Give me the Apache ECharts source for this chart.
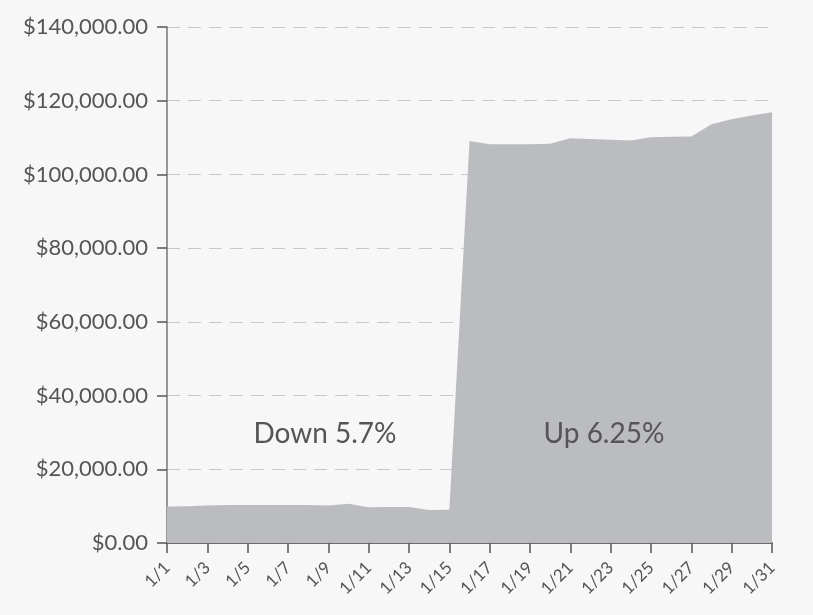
<!DOCTYPE html>
<html>
<head>
<meta charset="utf-8">
<script src="https://cdn.jsdelivr.net/npm/echarts@6/dist/echarts.min.js"></script>
<style>
html,body{margin:0;padding:0;background:#f7f7f7;}
#chart{width:813px;height:615px;}
</style>
</head>
<body>
<div id="chart"></div>
<script>
var categories = ['1/1','1/2','1/3','1/4','1/5','1/6','1/7','1/8','1/9','1/10','1/11','1/12','1/13','1/14','1/15','1/16','1/17','1/18','1/19','1/20','1/21','1/22','1/23','1/24','1/25','1/26','1/27','1/28','1/29','1/30','1/31'];
var values = [9900,10000,10150,10300,10300,10300,10300,10300,10200,10650,9700,9750,9750,8950,9050,109100,108200,108200,108200,108300,109800,109600,109400,109200,110100,110200,110300,113600,115000,116000,116900];
var yMin = 0, yMax = 140000, yStep = 20000;
var annotations = [
  {text: 'Down 5.7%', x: 325, y: 434},
  {text: 'Up 6.25%', x: 604, y: 434}
];

var chart = echarts.init(document.getElementById('chart'));
var font = 'Lato, "Open Sans", sans-serif';
chart.setOption({
  backgroundColor: '#f7f7f7',
  animation: false,
  grid: {left: 167, right: 41, top: 27, bottom: 72},
  xAxis: {
    type: 'category',
    data: categories,
    boundaryGap: false,
    axisLine: {lineStyle: {color: '#6b6b6b', width: 2}},
    axisTick: {show: true, interval: 1, length: 10, lineStyle: {color: '#555', width: 1.5}},
    axisLabel: {interval: 1, rotate: 45, color: '#555', fontSize: 17, fontFamily: font, margin: 22},
    splitLine: {show: false}
  },
  yAxis: {
    type: 'value',
    min: yMin, max: yMax, interval: yStep,
    axisLine: {show: true, lineStyle: {color: '#777', width: 1.5}},
    axisTick: {show: true, length: 10, lineStyle: {color: '#555', width: 1.5}},
    axisLabel: {
      color: '#555', fontSize: 22, fontFamily: font, margin: 19,
      formatter: function (v) {
        return '$' + v.toLocaleString('en-US', {minimumFractionDigits: 2, maximumFractionDigits: 2});
      }
    },
    splitLine: {show: true, lineStyle: {color: '#c8c8c8', type: [13, 8], width: 1}}
  },
  series: [{
    type: 'line',
    data: values,
    symbol: 'none',
    lineStyle: {width: 0, color: '#bbbcbf'},
    areaStyle: {color: '#bbbcbf', opacity: 1},
    z: 1
  }],
  graphic: annotations.map(function (a) {
    return {
      type: 'text', x: a.x, y: a.y, z: 10,
      style: {text: a.text, fill: '#555', font: '28px ' + font, textAlign: 'center', textVerticalAlign: 'middle'}
    };
  })
});
</script>
</body>
</html>
